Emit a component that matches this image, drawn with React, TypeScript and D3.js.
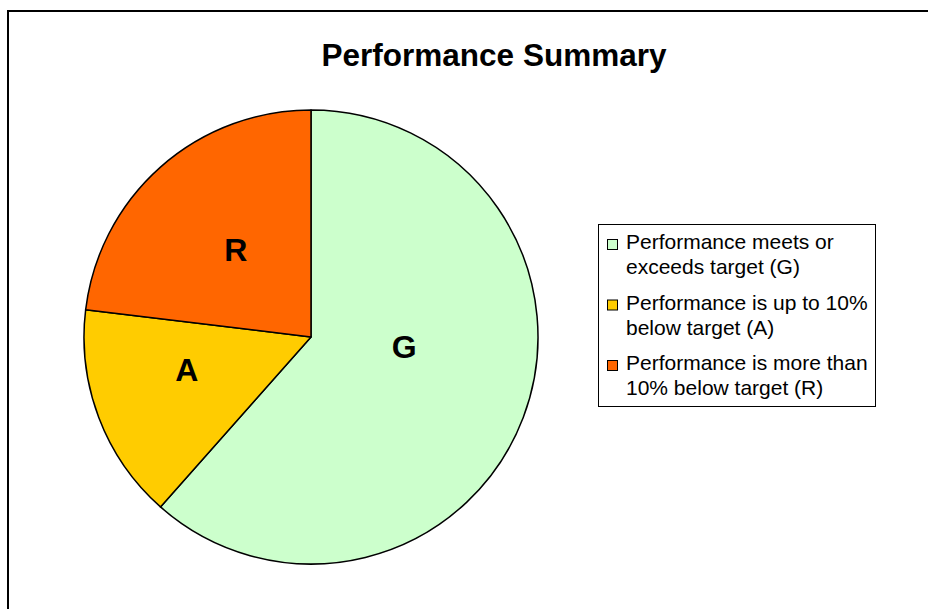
import React, { useEffect, useRef } from "react";
import * as d3 from "d3";

// slice counts (8 / 2 / 3 of 13)
const codes = ["G", "A", "R"];
const counts = [8, 2, 3];
const legendLines = [
  ["Performance meets or", "exceeds target (G)"],
  ["Performance is up to 10%", "below target (A)"],
  ["Performance is more than", "10% below target (R)"],
];
const colors = ["#CCFFCC", "#FFCC00", "#FF6600"];
const title = "Performance Summary";

// Excel puts data labels a bit off the true centroid
const labelNudge = [
  [-13, -31],
  [-18, -8],
  [0, -3],
];

const FONT = "'Liberation Sans', Arial, sans-serif";

export default function App() {
  const ref = useRef<SVGSVGElement>(null);

  useEffect(() => {
    const svg = d3.select(ref.current);
    svg.selectAll("*").remove();

    const width = 928;
    const height = 609;
    svg.attr("width", width).attr("height", height);

    svg.append("rect").attr("width", width).attr("height", height).attr("fill", "#fff");

    // chart area frame, runs off the right / bottom of the picture
    svg.append("rect")
      .attr("x", 8).attr("y", 11)
      .attr("width", 960).attr("height", 700)
      .attr("fill", "none").attr("stroke", "#000").attr("stroke-width", 2);

    svg.append("text")
      .attr("x", 494).attr("y", 66)
      .attr("text-anchor", "middle")
      .attr("font-family", FONT).attr("font-weight", "bold").attr("font-size", 31.5)
      .text(title);

    const data = codes.map((c, i) => ({ code: c, value: counts[i], color: colors[i], i }));
    const cx = 311;
    const cy = 337;
    const r = 227;

    const pie = d3.pie<any>().value((d) => d.value).sort(null);
    const arc = d3.arc<any>().innerRadius(0).outerRadius(r);
    const arcs = pie(data);

    const g = svg.append("g").attr("transform", `translate(${cx},${cy})`);
    g.selectAll("path")
      .data(arcs)
      .join("path")
      .attr("d", arc)
      .attr("fill", (d) => d.data.color)
      .attr("stroke", "#000")
      .attr("stroke-width", 1.5)
      .attr("stroke-linejoin", "round");

    g.selectAll("text.lbl")
      .data(arcs)
      .join("text")
      .attr("class", "lbl")
      .attr("x", (d) => arc.centroid(d)[0] + labelNudge[d.data.i][0])
      .attr("y", (d) => arc.centroid(d)[1] + labelNudge[d.data.i][1])
      .attr("dy", "0.36em")
      .attr("text-anchor", "middle")
      .attr("font-family", FONT).attr("font-weight", "bold").attr("font-size", 32)
      .text((d) => d.data.code);

    // legend
    const lx = 598;
    const ly = 224;
    svg.append("rect")
      .attr("x", lx + 0.5).attr("y", ly + 0.5)
      .attr("width", 277).attr("height", 182)
      .attr("fill", "#fff").attr("stroke", "#000").attr("stroke-width", 1);

    const rowY = d3.scalePoint<number>().domain(d3.range(codes.length)).range([249, 370]);
    const items = svg.selectAll("g.item")
      .data(data)
      .join("g")
      .attr("class", "item")
      .attr("transform", (d) => `translate(0,${rowY(d.i)})`);

    items.append("rect")
      .attr("x", 607.5).attr("y", -9.5)
      .attr("width", 10).attr("height", 10)
      .attr("fill", (d) => d.color)
      .attr("stroke", "#000").attr("stroke-width", 1);

    items.append("text")
      .attr("font-family", FONT).attr("font-size", 21).attr("fill", "#000")
      .selectAll("tspan")
      .data((d) => legendLines[d.i])
      .join("tspan")
      .attr("x", 626)
      .attr("y", (_, j) => j * 25)
      .text((t) => t);
  }, []);

  return <svg ref={ref} style={{ position: "absolute", left: 0, top: 0, display: "block" }} />;
}
